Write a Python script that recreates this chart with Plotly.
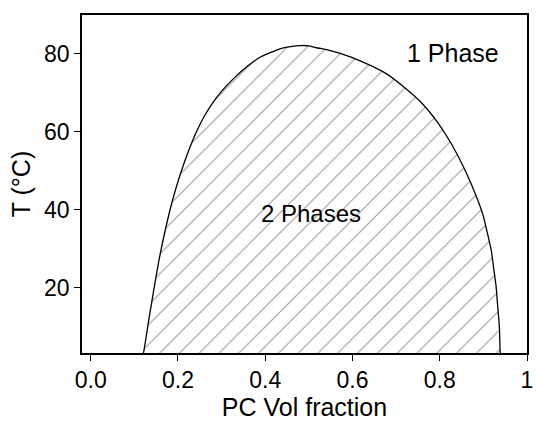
import plotly.graph_objects as go

# Binodal (phase boundary)
x_left = [0.120, 0.1215, 0.1341, 0.1533, 0.1668, 0.1866, 0.2046, 0.2218, 0.2398, 0.2586, 0.2773,
          0.2998, 0.3284, 0.3584, 0.3900, 0.4354, 0.458, 0.480]
t_left = [3.0, 3.6, 12.5, 25.2, 32.8, 42.1, 48.9, 54.4, 59.4, 63.7, 67.1,
          70.4, 73.8, 76.8, 79.3, 81.4, 81.9, 82.15]
x_right = [0.500, 0.5176, 0.545, 0.5701, 0.6229, 0.6754, 0.7205, 0.7581, 0.7955, 0.8269, 0.8584,
           0.8873, 0.8995, 0.9083, 0.918, 0.9234, 0.929, 0.9324, 0.9367, 0.9385, 0.939]
t_right = [82.1, 81.6, 81.0, 80.2, 78.0, 75.1, 71.3, 67.5, 62.4, 56.9, 50.1,
           42.5, 38.6, 34.5, 29.7, 25.2, 20.6, 15.9, 10.0, 3.6, 3.0]

x_ticks = [0.0, 0.2, 0.4, 0.6, 0.8, 1.0]
x_ticktext = ["0.0", "0.2", "0.4", "0.6", "0.8", "1"]
y_ticks = [20, 40, 60, 80]

labels = ["1 Phase", "2 Phases"]
label_x = [0.830, 0.504]
label_y = [80.2, 39.1]
label_size = [25, 24]

xs = x_left + x_right
ts = t_left + t_right

fig = go.Figure()
fig.add_trace(go.Scatter(
    x=xs + [xs[0]], y=ts + [ts[0]],
    mode="lines", line=dict(color="black", width=1.3, shape="spline", smoothing=0.5),
    fill="toself", fillcolor="white",
    fillpattern=dict(shape="/", fgcolor="#383838", bgcolor="white", size=14, solidity=0.08),
    showlegend=False, hoverinfo="skip",
))

for txt, lx, ly, fs in zip(labels, label_x, label_y, label_size):
    fig.add_annotation(x=lx, y=ly, text=txt, showarrow=False,
                       font=dict(size=fs, color="black"), bgcolor="rgba(0,0,0,0)")

font_family = "Liberation Sans, Arial, sans-serif"
fig.update_layout(
    width=539, height=423,
    margin=dict(l=82, r=6, t=15, b=67),
    paper_bgcolor="white", plot_bgcolor="white",
    font=dict(family=font_family, size=23, color="black"),
    showlegend=False,
)
fig.update_xaxes(
    range=[-0.02, 1.0], tickvals=x_ticks, ticktext=x_ticktext,
    ticks="outside", ticklen=6, tickwidth=1.3, tickcolor="black",
    showline=True, linecolor="black", linewidth=1.5, mirror=True,
    showgrid=False, zeroline=False,
    title=dict(text="PC Vol fraction", font=dict(size=25), standoff=6),
    tickfont=dict(size=23),
)
fig.update_yaxes(
    range=[3.3, 90], tickvals=y_ticks,
    ticks="outside", ticklen=6, tickwidth=1.3, tickcolor="black",
    showline=True, linecolor="black", linewidth=1.5, mirror=True,
    showgrid=False, zeroline=False,
    title=dict(text="T (°C)", font=dict(size=25), standoff=6),
    tickfont=dict(size=23),
)

fig.write_html("out.html")
